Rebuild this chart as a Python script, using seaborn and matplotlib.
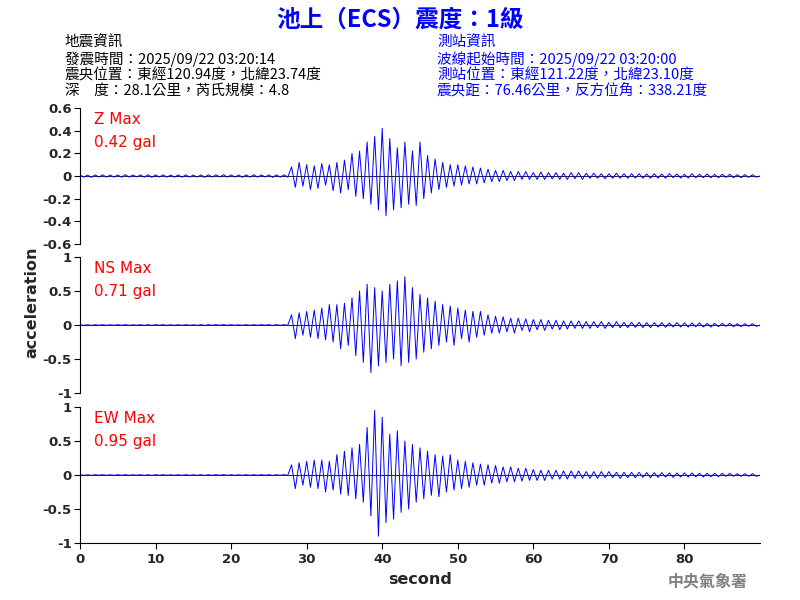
import numpy as np
import matplotlib
matplotlib.use("Agg")
import matplotlib.pyplot as plt
import seaborn as sns

sns.set_style("white")
plt.rcParams['font.family'] = ['Noto Sans CJK TC', 'DejaVu Sans']

pre_z = [0.01,-0.01,0.008,-0.012,0.01,-0.009,0.011,-0.01,0.009,-0.01,0.01,-0.011,0.012,-0.01,0.009,-0.008,
         0.01,-0.01,0.011,-0.012,0.01,-0.009,0.01,-0.01,0.008,-0.01,0.01,-0.011,0.01,-0.01,0.009,-0.01,
         0.01,-0.012,0.011,-0.01,0.01,-0.009,0.012,-0.01,0.01,-0.01,0.009,-0.011,0.01,-0.01,0.011,-0.01,
         0.01,-0.009,0.01,-0.012,0.01,-0.01,0.011,-0.01]
pre_h = [0.004,-0.004,0.003,-0.005,0.004,-0.003,0.004,-0.004,0.003,-0.004,0.004,-0.004,0.005,-0.004,0.003,-0.003,
         0.004,-0.004,0.004,-0.005,0.004,-0.003,0.004,-0.004,0.003,-0.004,0.004,-0.004,0.004,-0.004,0.003,-0.004,
         0.004,-0.005,0.004,-0.004,0.004,-0.003,0.005,-0.004,0.004,-0.004,0.003,-0.004,0.004,-0.004,0.004,-0.004,
         0.004,-0.003,0.004,-0.005,0.004,-0.004,0.004,-0.004]

z_main = [0.08,-0.1,0.12,-0.09, 0.1,-0.12,0.09,-0.11, 0.11,-0.08,0.1,-0.13, 0.12,-0.15,0.14,-0.12,
          0.2,-0.18,0.22,-0.2, 0.3,-0.25,0.35,-0.3, 0.42,-0.35,0.33,-0.3, 0.25,-0.28,0.3,-0.25,
          0.22,-0.26,0.3,-0.2, 0.18,-0.15,0.15,-0.12, 0.12,-0.1,0.1,-0.09, 0.1,-0.08,0.09,-0.07,
          0.08,-0.07,0.07,-0.06, 0.06,-0.05,0.05,-0.05, 0.05,-0.04,0.04,-0.04, 0.04,-0.03,0.04,-0.03,
          0.03,-0.03,0.035,-0.03,0.03,-0.025,0.03,-0.03,0.025,-0.03,0.03,-0.025,0.03,-0.03,0.025,-0.02,
          0.025,-0.02,0.02,-0.025,0.02,-0.02,0.025,-0.02,0.02,-0.02,0.02,-0.018,0.02,-0.02,0.018,-0.02,
          0.02,-0.018,0.018,-0.02,0.02,-0.015,0.018,-0.018,0.015,-0.018,0.02,-0.015,0.015,-0.015,0.018,-0.015,
          0.015,-0.015,0.015,-0.012,0.015,-0.015,0.012,-0.015,0.012,-0.012,0.012,-0.01,0.0]
ns_main = [0.15,-0.2,0.18,-0.15, 0.2,-0.18,0.22,-0.2, 0.25,-0.22,0.3,-0.25, 0.3,-0.35,0.32,-0.3,
           0.4,-0.45,0.5,-0.55, 0.6,-0.7,0.55,-0.6, 0.5,-0.55,0.6,-0.5, 0.65,-0.6,0.71,-0.55,
           0.55,-0.5,0.45,-0.4, 0.4,-0.35,0.35,-0.3, 0.3,-0.25,0.28,-0.3, 0.25,-0.2,0.22,-0.25,
           0.2,-0.18,0.2,-0.15, 0.15,-0.12,0.13,-0.12, 0.12,-0.1,0.1,-0.12, 0.1,-0.08,0.09,-0.1,
           0.08,-0.07,0.08,-0.08,0.07,-0.06,0.07,-0.07,0.06,-0.06,0.06,-0.05,0.06,-0.05,0.05,-0.05,
           0.05,-0.04,0.05,-0.05,0.04,-0.04,0.05,-0.04,0.04,-0.04,0.04,-0.035,0.04,-0.04,0.035,-0.04,
           0.035,-0.03,0.035,-0.035,0.03,-0.03,0.035,-0.03,0.03,-0.03,0.03,-0.025,0.03,-0.03,0.025,-0.03,
           0.025,-0.025,0.025,-0.02,0.025,-0.025,0.02,-0.025,0.02,-0.02,0.02,-0.02,0.0]
ew_main = [0.15,-0.2,0.18,-0.15, 0.2,-0.18,0.22,-0.2, 0.22,-0.25,0.2,-0.22, 0.3,-0.28,0.35,-0.3,
           0.4,-0.35,0.45,-0.4, 0.7,-0.6,0.95,-0.9, 0.85,-0.7,0.6,-0.65, 0.65,-0.55,0.5,-0.5,
           0.45,-0.4,0.4,-0.35, 0.35,-0.3,0.3,-0.32, 0.28,-0.25,0.3,-0.22, 0.22,-0.2,0.2,-0.18,
           0.18,-0.15,0.16,-0.15, 0.15,-0.12,0.14,-0.12, 0.12,-0.1,0.12,-0.1, 0.1,-0.09,0.1,-0.08,
           0.08,-0.08,0.07,-0.08,0.07,-0.06,0.07,-0.06,0.06,-0.06,0.06,-0.05,0.06,-0.05,0.05,-0.05,
           0.05,-0.05,0.05,-0.04,0.05,-0.04,0.04,-0.05,0.04,-0.04,0.04,-0.04,0.04,-0.035,0.035,-0.04,
           0.035,-0.035,0.035,-0.03,0.03,-0.035,0.03,-0.03,0.03,-0.03,0.03,-0.025,0.025,-0.03,0.025,-0.025,
           0.025,-0.025,0.025,-0.02,0.025,-0.02,0.02,-0.02,0.02,-0.02,0.02,-0.02,0.0]

channels = ["Z", "NS", "EW"]
max_labels = ["0.42 gal", "0.71 gal", "0.95 gal"]
series = [pre_z + z_main, pre_h + ns_main, pre_h + ew_main]
ylims = [(-0.6, 0.6), (-1, 1), (-1, 1)]
yticks = [[-0.6,-0.4,-0.2,0,0.2,0.4,0.6], [-1,-0.5,0,0.5,1], [-1,-0.5,0,0.5,1]]
yticklabels = [["-0.6","-0.4","-0.2","0","0.2","0.4","0.6"], ["-1","-0.5","0","0.5","1"], ["-1","-0.5","0","0.5","1"]]

fig = plt.figure(figsize=(8, 6), dpi=100)
tops = [108, 257, 407]
h = 136
for i in range(3):
    ax = fig.add_axes([80/800, 1 - (tops[i] + h)/600, 680/800, h/600])
    vals = series[i]
    t = np.arange(len(vals)) * 0.5
    sns.lineplot(x=t, y=vals, ax=ax, color="blue", linewidth=0.7)
    ax.axhline(0, color="black", linewidth=0.6, zorder=0)
    ax.set_xlim(0, 90)
    ax.set_ylim(*ylims[i])
    ax.set_yticks(yticks[i])
    ax.set_yticklabels(yticklabels[i], fontsize=9.5, family=['DejaVu Sans'], fontweight="bold")
    for s in ["top", "right"]:
        ax.spines[s].set_visible(False)
    ax.spines["left"].set_color("black")
    ax.tick_params(axis="y", length=4, left=True, direction="out", color="black", pad=2)
    if i < 2:
        ax.spines["bottom"].set_visible(False)
        ax.set_xticks([])
    else:
        ax.spines["bottom"].set_color("black")
        ax.set_xticks([0,10,20,30,40,50,60,70,80])
        ax.set_xticklabels([str(v) for v in range(0,81,10)], fontsize=9.5, family=['DejaVu Sans'],
                           fontweight="bold")
        ax.tick_params(axis="x", length=4, bottom=True, direction="out", color="black")
        ax.set_xlabel("second", fontsize=11.5, family=['DejaVu Sans'], fontweight="bold")
    ax.text(0.02, 0.97, channels[i] + " Max", transform=ax.transAxes, color="red", fontsize=11,
            va="top", family=['DejaVu Sans'])
    ax.text(0.02, 0.80, max_labels[i], transform=ax.transAxes, color="red", fontsize=11,
            va="top", family=['DejaVu Sans'])

fig.text(32/800, 1 - 302/600, "acceleration", rotation=90, fontsize=11.5, va="center", ha="center",
         family=['DejaVu Sans'], fontweight="bold")

fig.text(0.5, 1 - 20/600, "池上（ECS）震度：1級", color="blue", fontsize=17, fontweight="bold",
         ha="center", va="center")
left = ["地震資訊", "發震時間：2025/09/22 03:20:14", "震央位置：東經120.94度，北緯23.74度",
        "深　度：28.1公里，芮氏規模：4.8"]
right = ["測站資訊", "波線起始時間：2025/09/22 03:20:00", "測站位置：東經121.22度，北緯23.10度",
         "震央距：76.46公里，反方位角：338.21度"]
for k in range(4):
    y = 1 - (43 + 16*k)/600
    fig.text(65/800, y, left[k], color="black", fontsize=10.5, va="center")
    fig.text(437/800, y, right[k], color="blue", fontsize=10.5, va="center")
fig.text(748/800, 1 - 581/600, "中央氣象署", color="gray", fontsize=11.5, ha="right", va="center",
         fontweight="bold")

fig.savefig("out.png", dpi=100)
